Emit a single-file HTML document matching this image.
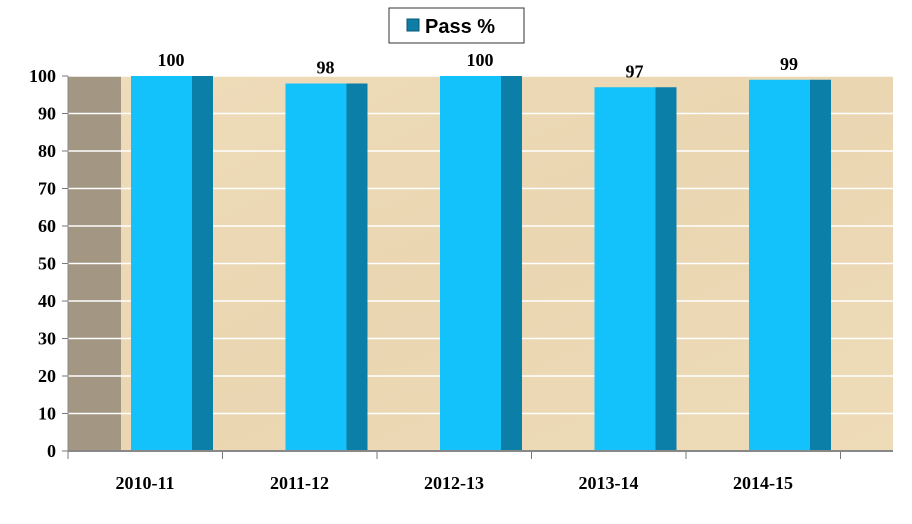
<!DOCTYPE html>
<html><head><meta charset="utf-8"><style>
body{margin:0;background:#fff;}
svg{display:block;font-family:"Liberation Serif",serif;}
</style></head><body>
<svg id="chart" width="912" height="524">
<defs>
<linearGradient id="bg" x1="0" y1="0" x2="1" y2="1">
<stop offset="0" stop-color="#efdcba"/><stop offset="0.5" stop-color="#ead6b1"/><stop offset="1" stop-color="#eedbb8"/>
</linearGradient>
</defs>
<rect x="68" y="76" width="825" height="375" fill="url(#bg)"/>
<rect x="68" y="76" width="53" height="375" fill="#a39682"/>
<g id="grid"></g>
<g id="bars"></g>
<g id="axes"></g>
<g>
<rect x="389" y="8" width="135" height="35" fill="#fff" stroke="#333" stroke-width="1"/>
<rect x="407" y="19" width="12" height="12" fill="#0f7ea6" stroke="#0a5574"/>
<text x="425" y="33" font-family="Liberation Sans,sans-serif" font-weight="bold" font-size="20" fill="#000">Pass %</text>
</g>
</svg>
<script>
const categories=["2010-11","2011-12","2012-13","2013-14","2014-15"];
const passValues=[100,98,100,97,99];
const yTicks=[0,10,20,30,40,50,60,70,80,90,100];
const NS="http://www.w3.org/2000/svg";
const x0=68,catW=154.5,yTop=76,yBot=451,yMax=100;
function y(v){return yBot-(v/yMax)*(yBot-yTop);}
function xc(i){return x0+i*catW;}
function mk(t,a,p){const e=document.createElementNS(NS,t);for(const k in a)e.setAttribute(k,a[k]);p.appendChild(e);return e;}
const grid=document.getElementById('grid'),bars=document.getElementById('bars'),axes=document.getElementById('axes');
yTicks.forEach(v=>{
  if(v>0){const l=mk('line',{x1:x0,x2:893,y1:y(v),y2:y(v),stroke:'#fff','stroke-width':1.5},grid);
  
  }
  const t=mk('line',{x1:x0-6,x2:x0,y1:y(v),y2:y(v),stroke:'#777'},axes);
  
  
  const tx=mk('text',{x:x0-12,y:y(v)+6,'text-anchor':'end','font-size':18,'font-weight':'bold'},axes);
  tx.textContent=v;
  
  
});
passValues.forEach((v,i)=>{
  const bx=xc(i)+63,top=y(v);
  const f=mk('rect',{x:bx,y:top,width:61,height:yBot-top,fill:'#13c1fb'},bars);
  
  
  const s=mk('rect',{x:bx+61,y:top,width:21,height:yBot-top,fill:'#0b7fa7'},bars);
  
  
  const lb=mk('text',{x:bx+40,y:top-10,'text-anchor':'middle','font-size':18,'font-weight':'bold'},bars);
  lb.textContent=v;
  
  
  const cl=mk('text',{x:xc(i)+77,y:489,'text-anchor':'middle','font-size':18,'font-weight':'bold'},axes);
  cl.textContent=categories[i];
  
  
});
for(let i=0;i<=5;i++){
  const t=mk('line',{x1:xc(i),x2:xc(i),y1:yBot,y2:yBot+8,stroke:'#777'},axes);
  
  
}
const ax=mk('line',{x1:x0,x2:893,y1:yBot,y2:yBot,stroke:'#888','stroke-width':2},axes);


const ay=mk('line',{x1:x0,x2:x0,y1:yTop,y2:yBot,stroke:'#888'},axes);


</script>
</body></html>
